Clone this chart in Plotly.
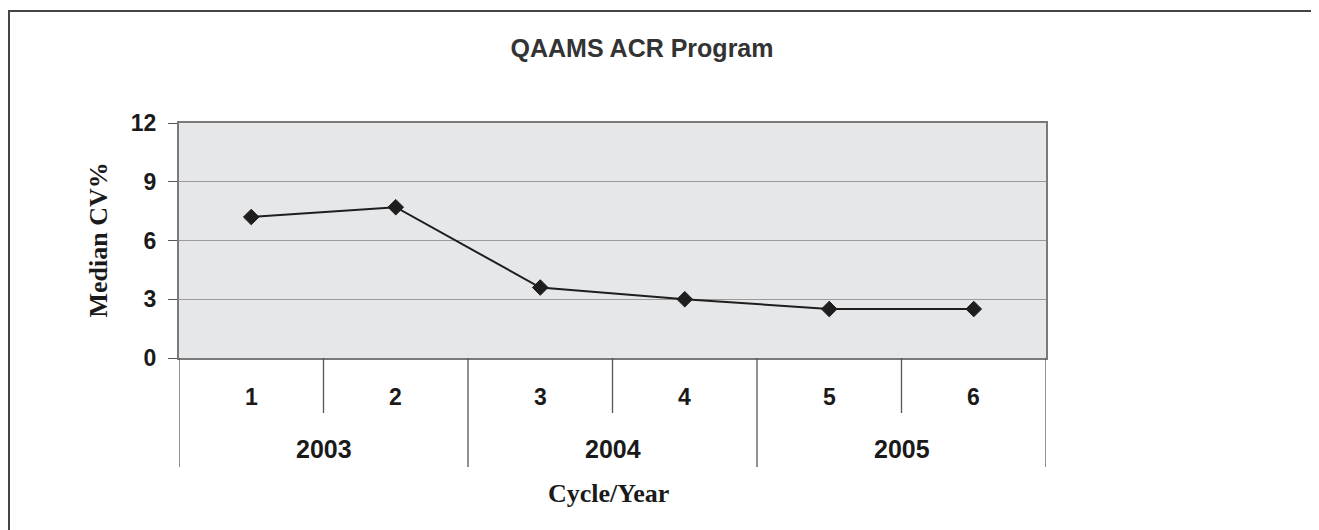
import plotly.graph_objects as go

# ---- data ----
cycles = ["1", "2", "3", "4", "5", "6"]
years = ["2003", "2004", "2005"]
cycles_per_year = 2
median_cv = [7.2, 7.7, 3.6, 3.0, 2.5, 2.5]
y_ticks = [0, 3, 6, 9, 12]

title_text = "QAAMS ACR Program"
y_title = "Median CV%"
x_title = "Cycle/Year"

# ---- layout geometry (screen pixels; page body has an 8px margin) ----
OFF = 8
W, H = 1319 - OFF, 530 - OFF
L, R, T, B = 179 - OFF, 1046 - OFF, 123 - OFF, 358 - OFF
PW, PH = R - L, B - T


def px(xs):
    return (xs - OFF - L) / PW


def py(ys):
    return (B - (ys - OFF)) / PH


sans = "Arial, Liberation Sans, Helvetica, sans-serif"
serif = "Times New Roman, Liberation Serif, serif"

fig = go.Figure()
fig.add_trace(go.Scatter(
    x=cycles, y=median_cv, mode="lines+markers",
    line=dict(color="#1e1e1e", width=2),
    marker=dict(symbol="diamond", size=12, color="#1e1e1e",
                line=dict(color="#1e1e1e", width=1)),
    showlegend=False, hoverinfo="x+y",
))

shapes = []
annotations = []

# cycle labels and separators
for i, c in enumerate(cycles):
    annotations.append(dict(x=i, y=py(397), xref="x", yref="paper", text=c,
                            showarrow=False, xanchor="center", yanchor="middle",
                            font=dict(family=sans, size=23, color="#1a1a1a", weight="bold")))
for i in range(len(cycles) + 1):
    boundary = i - 0.5
    is_outer = (i % cycles_per_year == 0)
    shapes.append(dict(type="line", xref="x", yref="paper",
                       x0=boundary, x1=boundary, y0=0,
                       y1=py(467) if is_outer else py(413),
                       line=dict(color="#555555", width=1.3)))

# year labels
for j, yr in enumerate(years):
    mid = j * cycles_per_year + (cycles_per_year - 1) / 2
    annotations.append(dict(x=mid, y=py(449), xref="x", yref="paper", text=yr,
                            showarrow=False, xanchor="center", yanchor="middle",
                            font=dict(family=sans, size=25, color="#1a1a1a", weight="bold")))

# axis titles
annotations.append(dict(x=px(98), y=0.5, xref="paper", yref="paper", text=y_title,
                        textangle=-90, showarrow=False, xanchor="center", yanchor="middle",
                        font=dict(family=serif, size=26, color="#1a1a1a", weight="bold")))
annotations.append(dict(x=px(608), y=py(493), xref="paper", yref="paper", text=x_title,
                        showarrow=False, xanchor="center", yanchor="middle",
                        font=dict(family=serif, size=26, color="#1a1a1a", weight="bold")))

# outer frame (top and left edges visible)
shapes.append(dict(type="line", xref="paper", yref="paper",
                   x0=px(8), x1=px(1330), y0=py(11), y1=py(11),
                   line=dict(color="#444444", width=2)))
shapes.append(dict(type="line", xref="paper", yref="paper",
                   x0=px(9), x1=px(9), y0=py(11), y1=py(540),
                   line=dict(color="#444444", width=2)))

fig.update_layout(
    width=W, height=H,
    margin=dict(l=L, r=W - R, t=T, b=H - B, pad=0),
    paper_bgcolor="white",
    plot_bgcolor="#e6e7e9",
    title=dict(text=title_text, x=(642 - OFF) / W, xanchor="center",
               y=1 - (48 - OFF) / H, yanchor="middle",
               font=dict(family=sans, size=25, color="#333333", weight="bold")),
    shapes=shapes,
    annotations=annotations,
)
fig.update_xaxes(type="category", range=[-0.5, len(cycles) - 0.5],
                 showticklabels=False, ticks="", showgrid=False, zeroline=False,
                 showline=True, linecolor="#7a7a7a", linewidth=2, mirror=True)
fig.update_yaxes(range=[0, 12], tickvals=y_ticks, ticks="outside", ticklen=9,
                 tickcolor="#555555", tickwidth=1.3,
                 tickfont=dict(family=sans, size=23, color="#1a1a1a", weight="bold"),
                 ticklabelstandoff=7,
                 showgrid=True, gridcolor="#9a9a9a", gridwidth=1.3, zeroline=False,
                 showline=True, linecolor="#7a7a7a", linewidth=2, mirror=True)

fig.write_html("out.html")
